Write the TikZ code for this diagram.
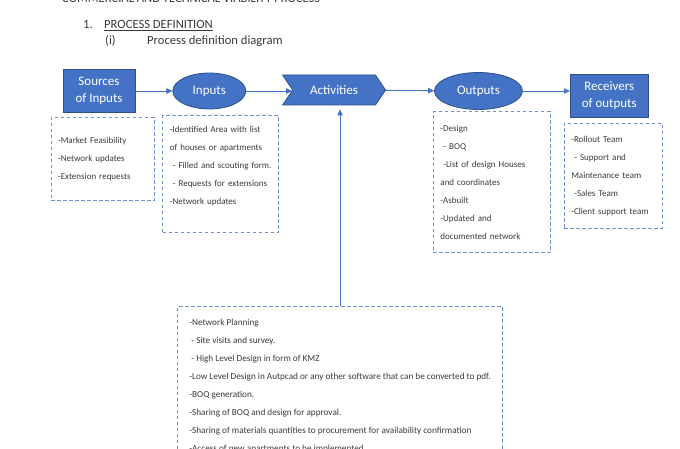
\documentclass[tikz,border=0pt]{standalone}
\usepackage{fontspec}
\setmainfont{Carlito}
\usetikzlibrary{positioning,shapes.geometric,shapes.symbols,arrows.meta}
\definecolor{fillblue}{HTML}{4472C4}
\definecolor{edgeblue}{HTML}{2F528F}
\definecolor{dashblue}{HTML}{6F8FCF}
\definecolor{bodytext}{HTML}{3A3A3A}
\tikzset{
  heading/.style={anchor=base west, inner sep=0pt, text=bodytext, font=\fontsize{12.6}{15}\selectfont},
  headbox/.style={draw=edgeblue, fill=fillblue, text=white, line width=0.8pt, align=center, font=\fontsize{13}{17}\selectfont},
  headoval/.style={headbox, ellipse, inner sep=0pt},
  headsignal/.style={headbox, signal, signal to=east, signal from=west, signal pointer angle=112, inner sep=0pt},
  listbox/.style={draw=dashblue, line width=0.7pt, dash pattern=on 3.5pt off 2.5pt, inner xsep=7pt, inner ysep=0pt, align=left, text=bodytext, font=\fontsize{9}{18}\selectfont},
  flow/.style={draw=fillblue, line width=0.8pt, -{Triangle[length=6pt,width=5.5pt]}}
}
\begin{document}
\begin{tikzpicture}[x=1pt,y=-1pt]
\clip (0,0) rectangle (680,449);
\node[heading] (title) at (62,3) {COMMERCIAL AND TECHNICAL VIABILITY PROCESS};
\node[heading] (secnum) at (83,28.5) {1.};
\node[heading] (sec) at (104,28.5) {\underline{PROCESS DEFINITION}};
\node[heading] (subnum) at (105,44.5) {(i)};
\node[heading] (sub) at (147,44.5) {Process definition diagram};

\node[headbox, minimum width=72pt, minimum height=43pt] (src) at (99,91) {Sources\\of Inputs};
\node[headoval, minimum width=73pt, minimum height=36pt, right=37pt of src] (inp) {Inputs};
\node[headsignal, minimum width=103pt, minimum height=30pt, right=46pt of inp, yshift=1pt] (act) {Activities};
\node[headoval, minimum width=88pt, minimum height=37pt, right=48pt of act, yshift=-1pt] (outp) {Outputs};
\node[headbox, minimum width=78pt, minimum height=43pt, right=47pt of outp, yshift=-5pt] (rcv) {Receivers\\of outputs};

\node[listbox, text width=89pt, minimum height=83pt, below=4.5pt of src, xshift=3.5pt] (srclist)
  {-Market Feasibility\\-Network updates\\-Extension requests};
\node[listbox, text width=102pt, minimum height=117pt, below=6pt of inp, xshift=11.5pt] (inplist)
  {-Identified Area with list\\of houses or apartments\\\ - Filled and scouting form.\\\ - Requests for extensions\\-Network updates\\\mbox{}};
\node[listbox, text width=103pt, minimum height=141pt, below=1.5pt of outp, xshift=13.5pt] (outlist)
  {-Design\\\ - BOQ\\\ -List of design Houses\\and coordinates\\-Asbuilt\\-Updated and\\documented network};
\node[listbox, text width=84pt, minimum height=105pt, below=5pt of rcv, xshift=4pt] (rcvlist)
  {-Rollout Team\\\ - Support and\\Maintenance team\\\ -Sales Team\\-Client support team};
\node[listbox, font=\fontsize{9.2}{18}\selectfont, minimum width=325pt, minimum height=159pt, below=201pt of act, xshift=6pt] (actlist)
  {-Network Planning\\\ - Site visits and survey.\\\ - High Level Design in form of KMZ\\-Low Level Design in Autpcad or any other software that can be converted to pdf.\\-BOQ generation.\\-Sharing of BOQ and design for approval.\\-Sharing of materials quantities to procurement for availability confirmation\\-Access of new apartments to be implemented};

\draw[flow] (src) -- (inp);
\draw[flow] (inp) -- (inp -| act.west);
\draw[flow] (act) -- (outp);
\draw[flow] (outp.east) -- (outp.east -| rcv.west);
\draw[flow, shorten >=4pt] (actlist.north) -- (actlist.north |- act.south);
\end{tikzpicture}
\end{document}
